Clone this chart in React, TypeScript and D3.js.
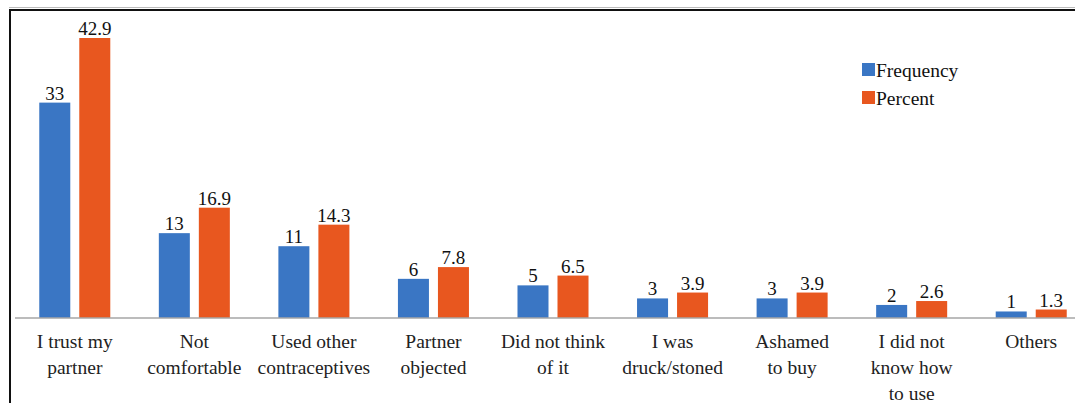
import React from 'react';
import * as d3 from 'd3';

const categories = [
  'I trust my partner',
  'Not comfortable',
  'Used other contraceptives',
  'Partner objected',
  'Did not think of it',
  'I was druck/stoned',
  'Ashamed to buy',
  'I did not know how to use',
  'Others',
];
const categoryLines = [
  ['I trust my', 'partner'],
  ['Not', 'comfortable'],
  ['Used other', 'contraceptives'],
  ['Partner', 'objected'],
  ['Did not think', 'of it'],
  ['I was', 'druck/stoned'],
  ['Ashamed', 'to buy'],
  ['I did not', 'know how', 'to use'],
  ['Others'],
];
const seriesNames = ['Frequency', 'Percent'];
const frequency = [33, 13, 11, 6, 5, 3, 3, 2, 1];
const percent = [42.9, 16.9, 14.3, 7.8, 6.5, 3.9, 3.9, 2.6, 1.3];
const colors = ['#3a76c4', '#e8571f'];

const W = 1075;
const H = 403;

export default function App() {
  const x0 = d3
    .scaleBand<string>()
    .domain(categories)
    .range([15, 1091])
    .paddingInner(0.406)
    .paddingOuter(0.203);
  const x1 = d3
    .scaleBand<string>()
    .domain(seriesNames)
    .range([0, x0.bandwidth()])
    .paddingInner(0.225);
  const y = d3.scaleLinear().domain([0, 42.9]).range([318, 38]);
  const series = [frequency, percent];

  return (
    <div style={{ position: 'fixed', left: 0, top: 0 }}>
      <style>{`body { font-family: 'Liberation Serif', serif; } .chart text { font-family: 'Liberation Serif', 'Times New Roman', Times, serif !important; }`}</style>
      <svg className="chart" width={W} height={H} style={{ display: 'block', background: '#fff' }}>
        {/* frame */}
        <line x1={9} x2={W} y1={7.5} y2={7.5} stroke="#bbb" strokeWidth={1} />
        <line x1={9} x2={W} y1={10} y2={10} stroke="#111" strokeWidth={2} />
        <line x1={10} x2={10} y1={9} y2={H} stroke="#111" strokeWidth={2} />

        {/* bars */}
        {categories.map((c, i) => (
          <g key={c} transform={`translate(${x0(c)},0)`}>
            {seriesNames.map((s, j) => {
              const v = series[j][i];
              const bx = x1(s)!;
              return (
                <g key={s}>
                  <rect
                    x={bx}
                    y={y(v)}
                    width={x1.bandwidth()}
                    height={y(0) - y(v)}
                    fill={colors[j]}
                  />
                  <text
                    x={bx + x1.bandwidth() / 2}
                    y={y(v) - 3}
                    textAnchor="middle"
                    fontSize={19}
                    fill="#111"
                  >
                    {v}
                  </text>
                </g>
              );
            })}
          </g>
        ))}

        {/* baseline */}
        <line x1={15} x2={W} y1={y(0)} y2={y(0)} stroke="#a6a6a6" strokeWidth={1.5} />

        {/* category labels */}
        {categories.map((c, i) => (
          <text
            key={c}
            x={x0(c)! + x0.bandwidth() / 2}
            y={348}
            textAnchor="middle"
            fontSize={19.5}
            fill="#222"
          >
            {categoryLines[i].map((ln, k) => (
              <tspan key={k} x={x0(c)! + x0.bandwidth() / 2} dy={k === 0 ? 0 : 26}>
                {ln}
              </tspan>
            ))}
          </text>
        ))}

        {/* legend */}
        {seriesNames.map((s, j) => (
          <g key={s} transform={`translate(862,${63 + j * 28})`}>
            <rect width={13} height={13} fill={colors[j]} />
            <text x={14} y={14} fontSize={19.5} fill="#111">
              {s}
            </text>
          </g>
        ))}
      </svg>
    </div>
  );
}
